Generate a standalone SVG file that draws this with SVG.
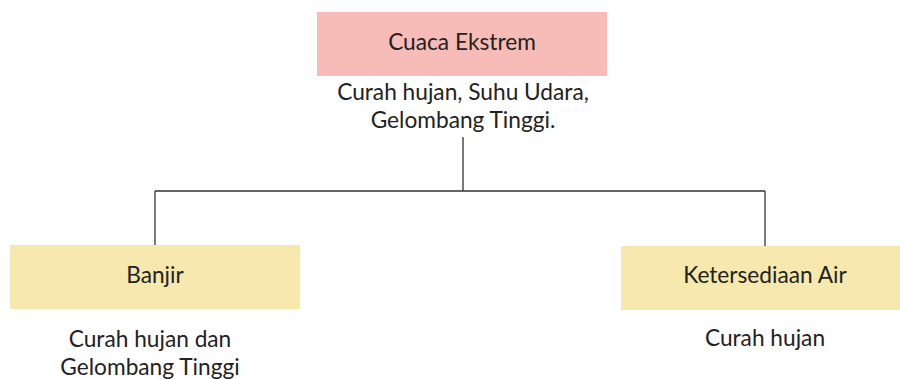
<svg xmlns="http://www.w3.org/2000/svg" width="900" height="379" viewBox="0 0 900 379">
<style>
.t{font-family:Lato,"Liberation Sans",sans-serif;font-size:22.7px;fill:#222;text-anchor:middle}
.ln{stroke:#333;stroke-width:1.3;fill:none}
</style>
<rect width="900" height="379" fill="#fff"/>
<g id="connectors">
<path class="ln" d="M463 137V191M155 191H765M155 191V246M765 191V246"/>
</g>
<g id="cuaca">
<rect x="317" y="12" width="290" height="64" fill="#f8bcb8"/>
<text class="t" x="462" y="50">Cuaca Ekstrem</text>
<text class="t" x="463" y="100">Curah hujan, Suhu Udara,</text>
<text class="t" x="463" y="128">Gelombang Tinggi.</text>
</g>
<g id="banjir">
<rect x="10" y="245" width="290" height="64" fill="#f7e9ae"/>
<text class="t" x="155" y="283">Banjir</text>
<text class="t" x="150" y="347">Curah hujan dan</text>
<text class="t" x="150" y="375">Gelombang Tinggi</text>
</g>
<g id="air">
<rect x="621" y="246" width="290" height="64" fill="#f7e9ae"/>
<text class="t" x="765" y="283">Ketersediaan Air</text>
<text class="t" x="765" y="346">Curah hujan</text>
</g>
</svg>
